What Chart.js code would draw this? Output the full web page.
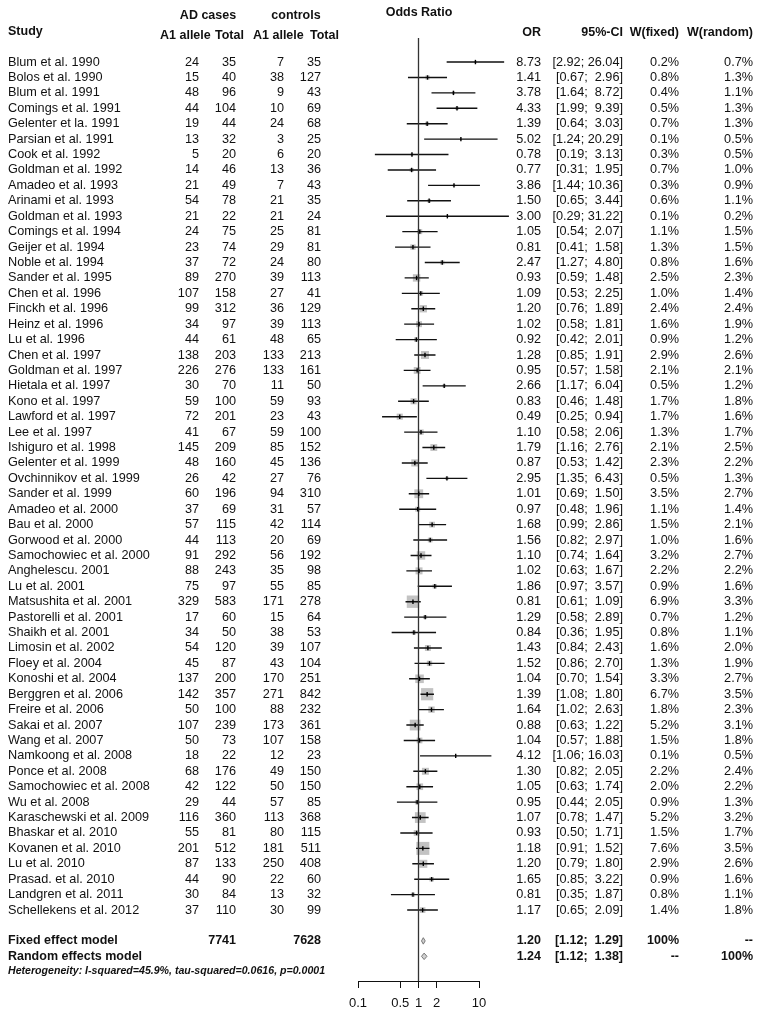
<!DOCTYPE html>
<html>
<head>
<meta charset="utf-8">
<script src="https://cdn.jsdelivr.net/npm/chart.js@4.4.1/dist/chart.umd.min.js"></script>
<style>
  body { margin: 0; background: #fff; }
  canvas { display: block; }
</style>
</head>
<body>
<canvas id="forest" width="762" height="1016"></canvas>
<script>
// study data
const studies = [
  'Blum et al. 1990', 'Bolos et al. 1990', 'Blum et al. 1991', 'Comings et al. 1991',
  'Gelenter et la. 1991', 'Parsian et al. 1991', 'Cook et al. 1992', 'Goldman et al. 1992',
  'Amadeo et al. 1993', 'Arinami et al. 1993', 'Goldman et al. 1993', 'Comings et al. 1994',
  'Geijer et al. 1994', 'Noble et al. 1994', 'Sander et al. 1995', 'Chen et al. 1996',
  'Finckh et al. 1996', 'Heinz et al. 1996', 'Lu et al. 1996', 'Chen et al. 1997',
  'Goldman et al. 1997', 'Hietala et al. 1997', 'Kono et al. 1997', 'Lawford et al. 1997',
  'Lee et al. 1997', 'Ishiguro et al. 1998', 'Gelenter et al. 1999', 'Ovchinnikov et al. 1999',
  'Sander et al. 1999', 'Amadeo et al. 2000', 'Bau et al. 2000', 'Gorwood et al. 2000',
  'Samochowiec et al. 2000', 'Anghelescu. 2001', 'Lu et al. 2001', 'Matsushita et al. 2001',
  'Pastorelli et al. 2001', 'Shaikh et al. 2001', 'Limosin et al. 2002', 'Floey et al. 2004',
  'Konoshi et al. 2004', 'Berggren et al. 2006', 'Freire et al. 2006', 'Sakai et al. 2007',
  'Wang et al. 2007', 'Namkoong et al. 2008', 'Ponce et al. 2008', 'Samochowiec et al. 2008',
  'Wu et al. 2008', 'Karaschewski et al. 2009', 'Bhaskar et al. 2010', 'Kovanen et al. 2010',
  'Lu et al. 2010', 'Prasad. et al. 2010', 'Landgren et al. 2011', 'Schellekens et al. 2012'
];
const caseA1 = [24, 15, 48, 44, 19, 13, 5, 14, 21, 54, 21, 24, 23, 37, 89, 107, 99, 34, 44, 138,
  226, 30, 59, 72, 41, 145, 48, 26, 60, 37, 57, 44, 91, 88, 75, 329, 17, 34, 54, 45,
  137, 142, 50, 107, 50, 18, 68, 42, 29, 116, 55, 201, 87, 44, 30, 37];
const caseTotal = [35, 40, 96, 104, 44, 32, 20, 46, 49, 78, 22, 75, 74, 72, 270, 158, 312, 97, 61, 203,
  276, 70, 100, 201, 67, 209, 160, 42, 196, 69, 115, 113, 292, 243, 97, 583, 60, 50, 120, 87,
  200, 357, 100, 239, 73, 22, 176, 122, 44, 360, 81, 512, 133, 90, 84, 110];
const ctrlA1 = [7, 38, 9, 10, 24, 3, 6, 13, 7, 21, 21, 25, 29, 24, 39, 27, 36, 39, 48, 133,
  133, 11, 59, 23, 59, 85, 45, 27, 94, 31, 42, 20, 56, 35, 55, 171, 15, 38, 39, 43,
  170, 271, 88, 173, 107, 12, 49, 50, 57, 113, 80, 181, 250, 22, 13, 30];
const ctrlTotal = [35, 127, 43, 69, 68, 25, 20, 36, 43, 35, 24, 81, 81, 80, 113, 41, 129, 113, 65, 213,
  161, 50, 93, 43, 100, 152, 136, 76, 310, 57, 114, 69, 192, 98, 85, 278, 64, 53, 107, 104,
  251, 842, 232, 361, 158, 23, 150, 150, 85, 368, 115, 511, 408, 60, 32, 99];
const oddsRatio = [8.73, 1.41, 3.78, 4.33, 1.39, 5.02, 0.78, 0.77, 3.86, 1.50, 3.00, 1.05, 0.81, 2.47,
  0.93, 1.09, 1.20, 1.02, 0.92, 1.28, 0.95, 2.66, 0.83, 0.49, 1.10, 1.79, 0.87, 2.95, 1.01, 0.97,
  1.68, 1.56, 1.10, 1.02, 1.86, 0.81, 1.29, 0.84, 1.43, 1.52, 1.04, 1.39, 1.64, 0.88, 1.04, 4.12,
  1.30, 1.05, 0.95, 1.07, 0.93, 1.18, 1.20, 1.65, 0.81, 1.17];
const ciLower = [2.92, 0.67, 1.64, 1.99, 0.64, 1.24, 0.19, 0.31, 1.44, 0.65, 0.29, 0.54, 0.41, 1.27,
  0.59, 0.53, 0.76, 0.58, 0.42, 0.85, 0.57, 1.17, 0.46, 0.25, 0.58, 1.16, 0.53, 1.35, 0.69, 0.48,
  0.99, 0.82, 0.74, 0.63, 0.97, 0.61, 0.58, 0.36, 0.84, 0.86, 0.70, 1.08, 1.02, 0.63, 0.57, 1.06,
  0.82, 0.63, 0.44, 0.78, 0.50, 0.91, 0.79, 0.85, 0.35, 0.65];
const ciUpper = [26.04, 2.96, 8.72, 9.39, 3.03, 20.29, 3.13, 1.95, 10.36, 3.44, 31.22, 2.07, 1.58, 4.80,
  1.48, 2.25, 1.89, 1.81, 2.01, 1.91, 1.58, 6.04, 1.48, 0.94, 2.06, 2.76, 1.42, 6.43, 1.50, 1.96,
  2.86, 2.97, 1.64, 1.67, 3.57, 1.09, 2.89, 1.95, 2.43, 2.70, 1.54, 1.80, 2.63, 1.22, 1.88, 16.03,
  2.05, 1.74, 2.05, 1.47, 1.71, 1.52, 1.80, 3.22, 1.87, 2.09];
const weightFixed = [0.2, 0.8, 0.4, 0.5, 0.7, 0.1, 0.3, 0.7, 0.3, 0.6, 0.1, 1.1, 1.3, 0.8, 2.5, 1.0,
  2.4, 1.6, 0.9, 2.9, 2.1, 0.5, 1.7, 1.7, 1.3, 2.1, 2.3, 0.5, 3.5, 1.1, 1.5, 1.0, 3.2, 2.2, 0.9,
  6.9, 0.7, 0.8, 1.6, 1.3, 3.3, 6.7, 1.8, 5.2, 1.5, 0.1, 2.2, 2.0, 0.9, 5.2, 1.5, 7.6, 2.9, 0.9,
  0.8, 1.4];
const weightRandom = [0.7, 1.3, 1.1, 1.3, 1.3, 0.5, 0.5, 1.0, 0.9, 1.1, 0.2, 1.5, 1.5, 1.6, 2.3, 1.4,
  2.4, 1.9, 1.2, 2.6, 2.1, 1.2, 1.8, 1.6, 1.7, 2.5, 2.2, 1.3, 2.7, 1.4, 2.1, 1.6, 2.7, 2.2, 1.6,
  3.3, 1.2, 1.1, 2.0, 1.9, 2.7, 3.5, 2.3, 3.1, 1.8, 0.5, 2.4, 2.2, 1.3, 3.2, 1.7, 3.5, 2.6, 1.6,
  1.1, 1.8];

const summaryLabels = ['Fixed effect model', 'Random effects model'];
const summaryOR = [1.20, 1.24];
const summaryLower = [1.12, 1.12];
const summaryUpper = [1.29, 1.38];
const summaryWFixed = ['100%', '--'];
const summaryWRandom = ['--', '100%'];
const totalCases = 7741;
const totalControls = 7628;
const heterogeneity = 'Heterogeneity: I-squared=45.9%, tau-squared=0.0616, p=0.0001';
const axisTicks = [0.1, 0.5, 1, 2, 10];

// row layout (in row units on the y scale)
const nStudies = studies.length;
const summaryRows = [nStudies + 1, nStudies + 2];
const hetRow = nStudies + 2.95;
const yTop = -1.56;
const yBottom = nStudies + 3.6;
const maxWeight = Math.max(...weightFixed);

const FONT = "'Liberation Sans', Arial, Helvetica, sans-serif";
const fmtCI = (lo, hi) => '[' + lo.toFixed(2) + '; ' + hi.toFixed(2).padStart(5) + ']';

// confidence interval segments, broken with null points
const ciSegments = [];
studies.forEach((s, i) => {
  ciSegments.push({x: ciLower[i], y: i}, {x: ciUpper[i], y: i}, {x: ciUpper[i], y: null});
});

const points = studies.map((s, i) => ({x: oddsRatio[i], y: i}));

function diamond(k) {
  const r = summaryRows[k], h = 0.21;
  return [
    {x: summaryLower[k], y: r}, {x: summaryOR[k], y: r - h},
    {x: summaryUpper[k], y: r}, {x: summaryOR[k], y: r + h},
    {x: summaryLower[k], y: r}
  ];
}

// text columns drawn next to the plot
const tablePlugin = {
  id: 'forestTable',
  afterDraw(chart) {
    const ctx = chart.ctx;
    const y = chart.scales.y;
    ctx.save();
    ctx.fillStyle = '#111';
    ctx.textBaseline = 'middle';
    const put = (s, x, yy, align, font) => {
      ctx.font = font;
      ctx.textAlign = align;
      ctx.fillText(String(s), x, yy);
    };
    const reg = '12.7px ' + FONT;
    const bold = 'bold 12.5px ' + FONT;

    // headers
    put('Study', 8, 32, 'left', bold);
    put('AD cases', 208, 16, 'center', bold);
    put('controls', 296, 16, 'center', bold);
    put('A1 allele', 160, 36, 'left', bold);
    put('Total', 215, 36, 'left', bold);
    put('A1 allele', 253, 36, 'left', bold);
    put('Total', 310, 36, 'left', bold);
    put('Odds Ratio', 419, 13, 'center', bold);
    put('OR', 541, 33, 'right', bold);
    put('95%-CI', 623, 33, 'right', bold);
    put('W(fixed)', 679, 33, 'right', bold);
    put('W(random)', 753, 33, 'right', bold);

    studies.forEach((s, i) => {
      const yy = y.getPixelForValue(i);
      put(s, 8, yy, 'left', reg);
      put(caseA1[i], 199, yy, 'right', reg);
      put(caseTotal[i], 236, yy, 'right', reg);
      put(ctrlA1[i], 284, yy, 'right', reg);
      put(ctrlTotal[i], 321, yy, 'right', reg);
      put(oddsRatio[i].toFixed(2), 541, yy, 'right', reg);
      put(fmtCI(ciLower[i], ciUpper[i]), 623, yy, 'right', reg);
      put(weightFixed[i].toFixed(1) + '%', 679, yy, 'right', reg);
      put(weightRandom[i].toFixed(1) + '%', 753, yy, 'right', reg);
    });

    summaryLabels.forEach((s, k) => {
      const yy = y.getPixelForValue(summaryRows[k]);
      put(s, 8, yy, 'left', bold);
      if (k === 0) {
        put(totalCases, 236, yy, 'right', bold);
        put(totalControls, 321, yy, 'right', bold);
      }
      put(summaryOR[k].toFixed(2), 541, yy, 'right', bold);
      put(fmtCI(summaryLower[k], summaryUpper[k]), 623, yy, 'right', bold);
      put(summaryWFixed[k], 679, yy, 'right', bold);
      put(summaryWRandom[k], 753, yy, 'right', bold);
    });

    put(heterogeneity, 8, y.getPixelForValue(hetRow), 'left', 'italic bold 10.6px ' + FONT);
    ctx.restore();
  }
};

const ctx = document.getElementById('forest').getContext('2d');
const forestChart = new Chart(ctx, {
  type: 'scatter',
  data: {
    datasets: [
      {
        // weight squares
        data: points,
        pointStyle: 'rect',
        pointRadius: c => 13 * Math.sqrt(weightFixed[c.dataIndex] / maxWeight) / Math.SQRT2,
        backgroundColor: '#c3c3c3',
        borderWidth: 0,
        clip: false,
        order: 4
      },
      {
        type: 'line',
        data: ciSegments,
        borderColor: '#111',
        borderWidth: 1.4,
        pointRadius: 0,
        spanGaps: false,
        clip: false,
        order: 3
      },
      {
        // reference line at OR = 1
        type: 'line',
        data: [{x: 1, y: yTop}, {x: 1, y: yBottom}],
        borderColor: '#333',
        borderWidth: 1.3,
        pointRadius: 0,
        clip: false,
        order: 2
      },
      {
        // point estimate marks
        data: points,
        pointStyle: 'line',
        rotation: 90,
        pointRadius: 2.2,
        borderColor: '#000',
        borderWidth: 1.4,
        clip: false,
        order: 1
      },
      ...summaryRows.map((r, k) => ({
        type: 'line',
        data: diamond(k),
        fill: 'shape',
        backgroundColor: '#d0d0d0',
        borderColor: '#777',
        borderWidth: 1,
        pointRadius: 0,
        tension: 0,
        clip: false,
        order: 0
      }))
    ]
  },
  options: {
    responsive: false,
    devicePixelRatio: 1,
    animation: false,
    layout: { padding: { left: 358, right: 283, top: 38, bottom: 0 } },
    plugins: { legend: { display: false }, tooltip: { enabled: false } },
    scales: {
      x: {
        type: 'logarithmic',
        min: 0.1,
        max: 10,
        position: 'bottom',
        afterBuildTicks: scale => { scale.ticks = axisTicks.map(v => ({ value: v })); },
        afterFit: scale => { scale.height = 35; },
        ticks: {
          color: '#111',
          font: { family: FONT, size: 13 },
          padding: 8,
          maxRotation: 0,
          autoSkip: false,
          callback: v => String(v)
        },
        grid: { drawOnChartArea: false, drawTicks: true, tickLength: 7, color: '#111', lineWidth: 1 },
        border: { display: true, color: '#111', width: 1 }
      },
      y: {
        type: 'linear',
        min: yTop,
        max: yBottom,
        reverse: true,
        display: false
      }
    }
  },
  plugins: [tablePlugin]
});
</script>
</body>
</html>
